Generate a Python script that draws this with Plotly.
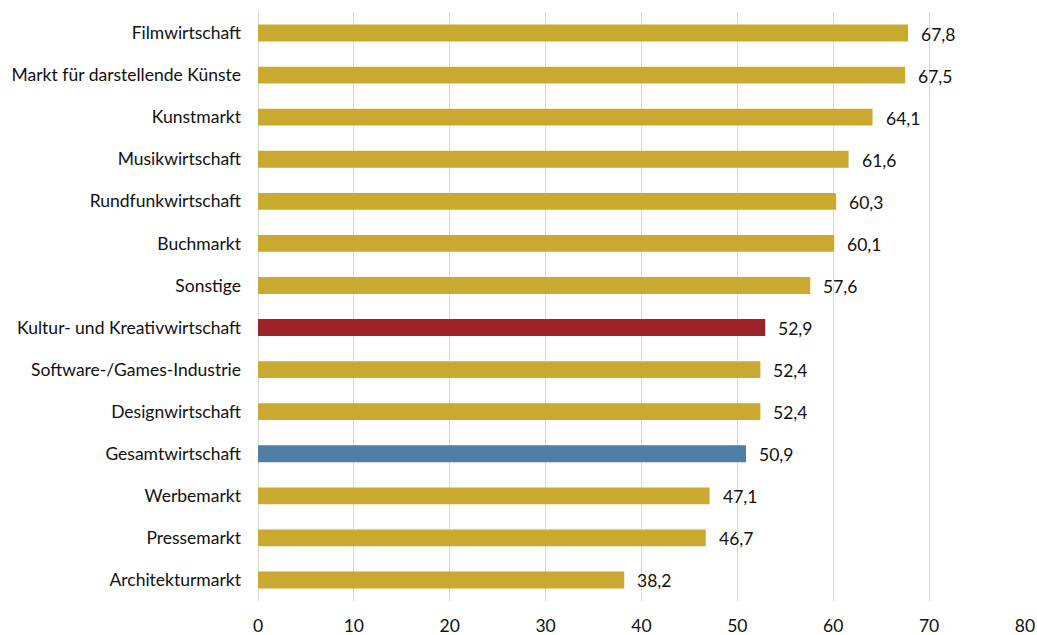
import plotly.graph_objects as go

categories = ["Filmwirtschaft", "Markt für darstellende Künste", "Kunstmarkt", "Musikwirtschaft",
              "Rundfunkwirtschaft", "Buchmarkt", "Sonstige", "Kultur- und Kreativwirtschaft",
              "Software-/Games-Industrie", "Designwirtschaft", "Gesamtwirtschaft", "Werbemarkt",
              "Pressemarkt", "Architekturmarkt"]
values = [67.8, 67.5, 64.1, 61.6, 60.3, 60.1, 57.6, 52.9, 52.4, 52.4, 50.9, 47.1, 46.7, 38.2]
labels = ["67,8", "67,5", "64,1", "61,6", "60,3", "60,1", "57,6", "52,9", "52,4", "52,4", "50,9", "47,1", "46,7", "38,2"]

GOLD, RED, BLUE = "#C9A930", "#9B2226", "#507EA6"
colors = [RED if c == "Kultur- und Kreativwirtschaft" else BLUE if c == "Gesamtwirtschaft" else GOLD
          for c in categories]

font = "Lato, 'Open Sans', sans-serif"
FS = 17.5
TC = "#111111"
fig = go.Figure(go.Bar(
    y=categories, x=values, orientation="h", marker=dict(color=colors, line_width=0),
    width=0.4, hoverinfo="skip"))

for c, v, t in zip(categories, values, labels):
    fig.add_annotation(x=v, y=c, text=t, showarrow=False, xanchor="left", xshift=11, yshift=-1,
                       font=dict(family=font, size=FS, color=TC))

fig.update_layout(
    width=1037, height=635, margin=dict(l=258, r=12, t=12, b=34),
    paper_bgcolor="white", plot_bgcolor="white", showlegend=False,
    font=dict(family=font, size=FS, color=TC),
)
fig.update_xaxes(range=[0, 80], dtick=10, tick0=0, showgrid=True, gridcolor="#d9d9d9", gridwidth=1,
                 zeroline=True, zerolinecolor="#d9d9d9", zerolinewidth=1, showline=False,
                 ticks="", automargin=False, ticklabelstandoff=12,
                 tickfont=dict(family=font, size=FS, color=TC))
fig.update_yaxes(autorange="reversed", showgrid=False, ticks="", ticklabelstandoff=16,
                 automargin=False, tickfont=dict(family=font, size=FS, color=TC))

fig.write_html("out.html")
